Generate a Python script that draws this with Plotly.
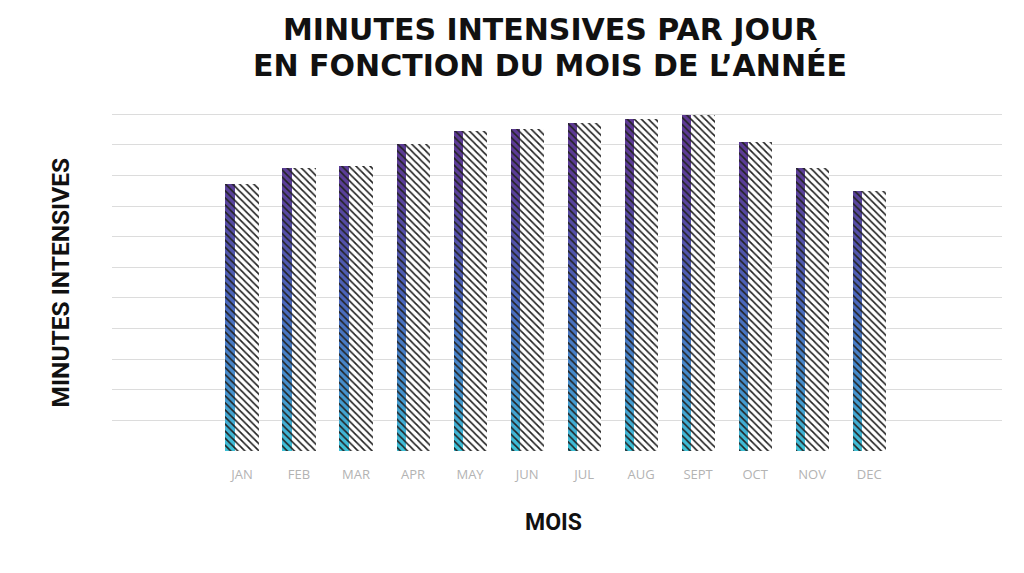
import numpy as np
import plotly.graph_objects as go

months = ["JAN", "FEB", "MAR", "APR", "MAY", "JUN", "JUL", "AUG", "SEPT", "OCT", "NOV", "DEC"]
values = [8.71, 9.23, 9.30, 10.02, 10.46, 10.51, 10.70, 10.85, 10.99, 10.09, 9.26, 8.49]

title_lines = ["MINUTES INTENSIVES PAR JOUR", "EN FONCTION DU MOIS DE L\u2019ANNÉE"]
y_title = "MINUTES INTENSIVES"
x_title = "MOIS"

# gradient colour stops (axis units -> colour)
grad_stops = [(0.0, (62, 196, 217)), (2.0, (69, 146, 207)), (5.0, (75, 102, 188)),
              (8.7, (90, 62, 152)), (11.0, (94, 56, 147))]


def grad_color(level):
    for (l0, c0), (l1, c1) in zip(grad_stops[:-1], grad_stops[1:]):
        if level <= l1:
            t = (level - l0) / (l1 - l0)
            c = [round(a + (b - a) * t) for a, b in zip(c0, c1)]
            return f"rgb({c[0]},{c[1]},{c[2]})"
    c = grad_stops[-1][1]
    return f"rgb({c[0]},{c[1]},{c[2]})"


BAR_W = 0.58
STRIP_W = 0.16
OFF = -BAR_W / 2

fig = go.Figure()

# white backing bar
fig.add_trace(go.Bar(x=months, y=values, width=BAR_W, offset=OFF,
                     marker=dict(color="white", line=dict(width=0)),
                     hoverinfo="skip", showlegend=False))

# gradient strip built from nested bars (tallest first)
vals = np.array(values)
levels = np.round(np.arange(11.2, 0.0, -0.2), 3)
for L in levels:
    fig.add_trace(go.Bar(x=months, y=np.minimum(vals, L), width=STRIP_W, offset=OFF,
                         marker=dict(color=grad_color(L - 0.1), line=dict(width=0)),
                         hoverinfo="skip", showlegend=False))

# hatched overlay
fig.add_trace(go.Bar(x=months, y=values, width=BAR_W, offset=OFF,
                     marker=dict(color="rgba(0,0,0,0)", line=dict(width=0),
                                 pattern=dict(shape="\\", size=5, solidity=0.33,
                                              fgcolor="#222222", bgcolor="rgba(0,0,0,0)",
                                              fgopacity=1, fillmode="overlay")),
                     hovertemplate="%{x}: %{y}<extra></extra>", showlegend=False))

annotations = [
    dict(text=title_lines[0], x=0.492, y=1.2455, xref="paper", yref="paper",
         showarrow=False, xanchor="center", yanchor="middle",
         font=dict(family="DejaVu Sans", size=30, color="#111111", weight="bold")),
    dict(text=title_lines[1], x=0.492, y=1.1414, xref="paper", yref="paper",
         showarrow=False, xanchor="center", yanchor="middle",
         font=dict(family="DejaVu Sans", size=30, color="#111111", weight="bold")),
    dict(text=y_title, x=-0.0584, y=0.5, xref="paper", yref="paper", textangle=-90,
         showarrow=False, xanchor="center", yanchor="middle",
         font=dict(family="Roboto", size=24.5, color="#111111", weight="bold")),
    dict(text=x_title, x=0.496, y=-0.208, xref="paper", yref="paper",
         showarrow=False, xanchor="center", yanchor="middle",
         font=dict(family="Roboto", size=23, color="#111111", weight="bold")),
]

fig.update_layout(
    width=1024, height=573,
    margin=dict(l=112, r=22, t=113, b=121),
    paper_bgcolor="white", plot_bgcolor="white",
    barmode="overlay", bargap=0,
    annotations=annotations,
    xaxis=dict(type="category", range=[-2.28, 13.33], showgrid=False, zeroline=False,
               showline=False, ticks="", ticklabelstandoff=13,
               tickfont=dict(family="Open Sans", size=13, color="#b3b3b3")),
    yaxis=dict(range=[-0.03, 11.04], dtick=1, showgrid=True, gridcolor="#dcdcdc", gridwidth=1,
               zeroline=False, showline=False, showticklabels=False, ticks=""),
)

fig.write_html("out.html")
